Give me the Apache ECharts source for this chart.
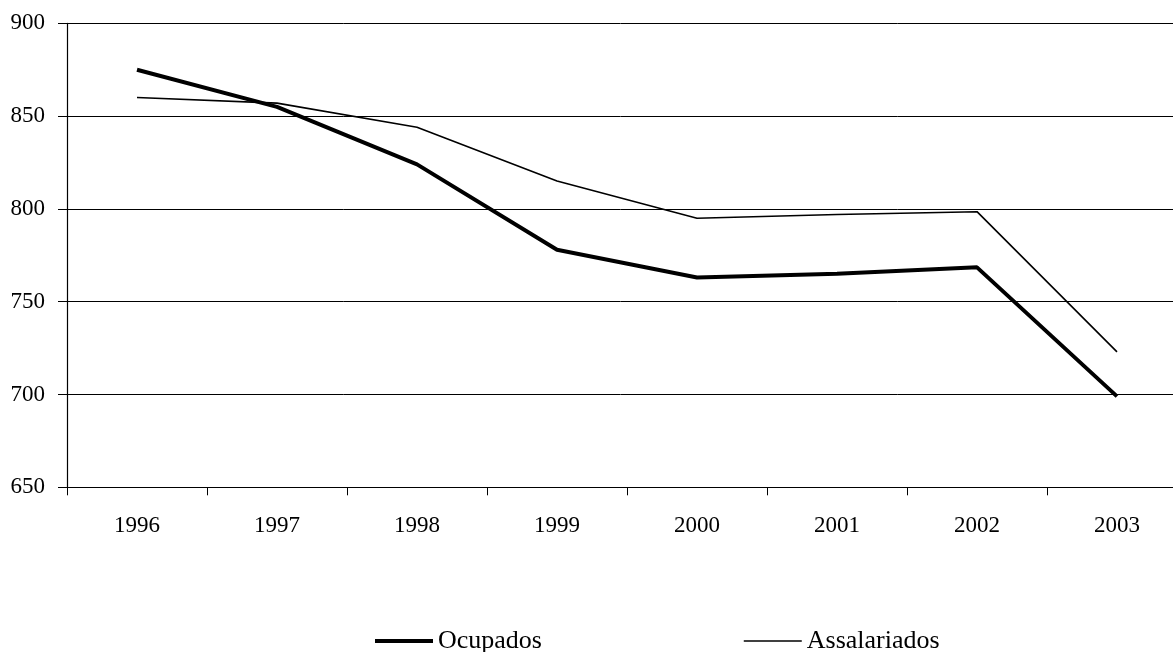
<!DOCTYPE html>
<html>
<head>
<meta charset="utf-8">
<script src="https://cdn.jsdelivr.net/npm/echarts@6/dist/echarts.min.js"></script>
<style>
  html, body { margin: 0; padding: 0; background: #fff; }
  #chart { width: 1173px; height: 652px; }
</style>
</head>
<body>
<div id="chart"></div>
<script>
const years = ['1996', '1997', '1998', '1999', '2000', '2001', '2002', '2003'];
const ocupados = [875, 855, 824, 778, 763, 765, 768.5, 699];
const assalariados = [860, 857, 844, 815, 795, 797, 798.5, 723];
const yTicks = { min: 650, max: 900, interval: 50 };

const FONT = '"Liberation Serif", "Times New Roman", serif';
const chart = echarts.init(document.getElementById('chart'), null, { renderer: 'canvas' });
chart.setOption({
  animation: false,
  backgroundColor: '#ffffff',
  grid: { left: 67, top: 23.3, right: -14, bottom: 164.7, containLabel: false, outerBoundsMode: 'none' },
  legend: {
    data: [
      { name: 'Ocupados', lineStyle: { width: 4, color: '#000' } },
      { name: 'Assalariados', lineStyle: { width: 1.6, color: '#000' } }
    ],
    left: 373, top: 628, orient: 'horizontal', padding: 0,
    itemWidth: 58, itemHeight: 20, itemGap: 201,
    itemStyle: { color: 'rgba(0,0,0,0)', borderWidth: 0, opacity: 0 },
    textStyle: { fontFamily: FONT, fontSize: 26, color: '#000' }
  },
  xAxis: {
    type: 'category',
    data: years,
    boundaryGap: true,
    axisLine: { show: true, lineStyle: { color: '#000', width: 1.2 } },
    axisTick: { show: true, length: 8, inside: false, lineStyle: { color: '#000' } },
    axisLabel: { margin: 27, fontFamily: FONT, fontSize: 23, color: '#000' },
    splitLine: { show: false }
  },
  yAxis: {
    type: 'value',
    min: yTicks.min, max: yTicks.max, interval: yTicks.interval,
    axisLine: { show: true, lineStyle: { color: '#000', width: 1.2 } },
    axisTick: { show: true, length: 9, lineStyle: { color: '#000' } },
    axisLabel: { margin: 22, fontFamily: FONT, fontSize: 23, color: '#000' },
    splitLine: { show: true, lineStyle: { color: '#000', width: 1 } }
  },
  series: [
    {
      name: 'Ocupados', type: 'line', data: ocupados,
      symbol: 'none', showSymbol: false,
      lineStyle: { color: '#000', width: 4 },
      itemStyle: { color: '#000' }
    },
    {
      name: 'Assalariados', type: 'line', data: assalariados,
      symbol: 'none', showSymbol: false,
      lineStyle: { color: '#000', width: 1.6 },
      itemStyle: { color: '#000' }
    }
  ]
});
</script>
</body>
</html>
